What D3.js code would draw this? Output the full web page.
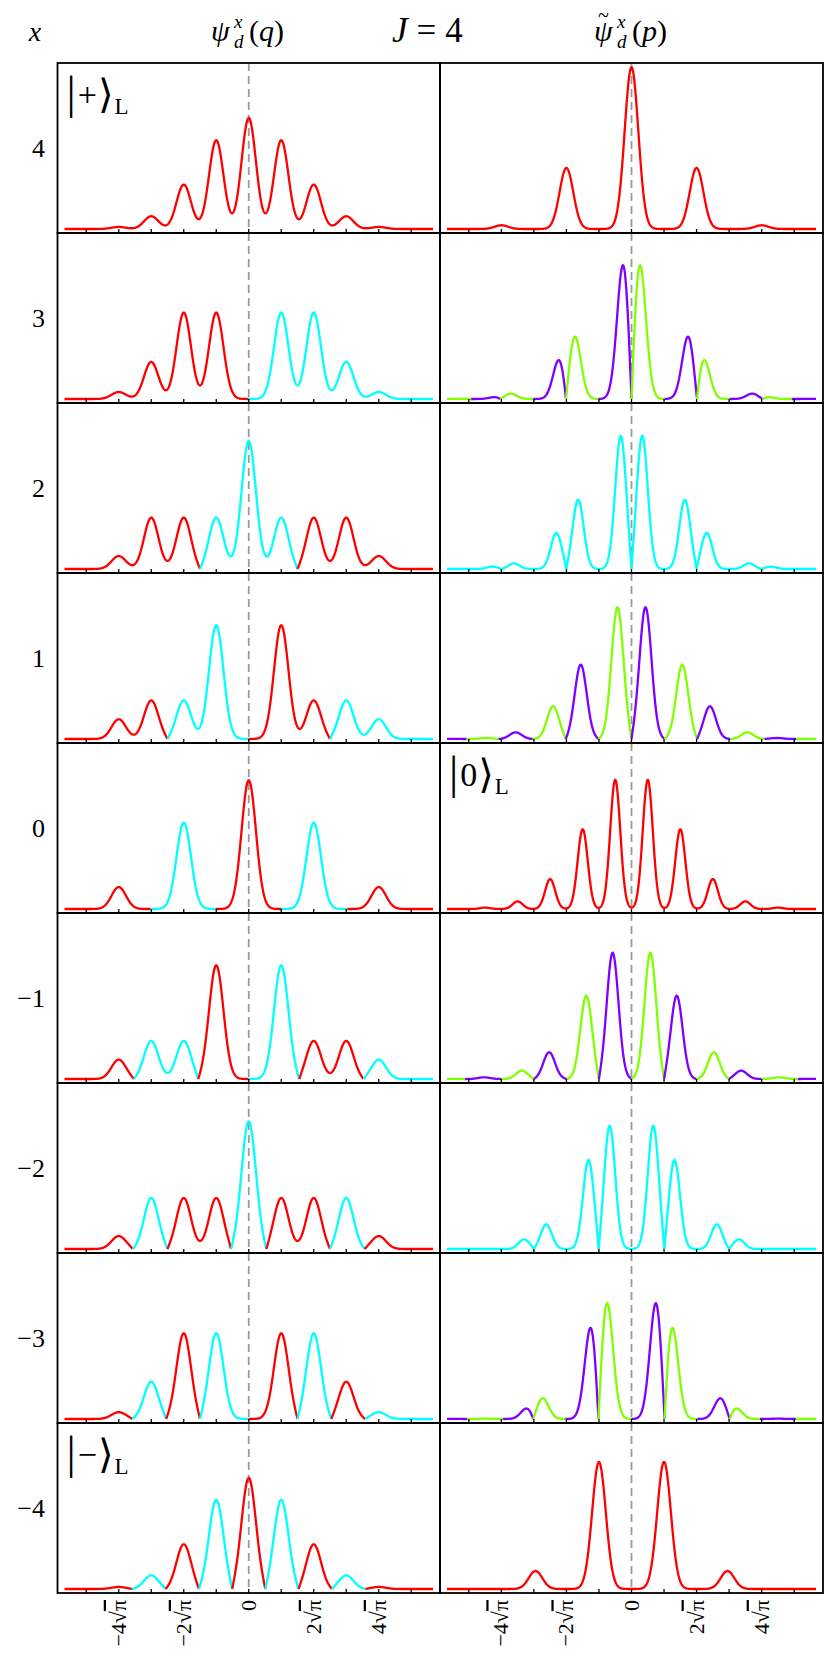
<!DOCTYPE html>
<html>
<head>
<meta charset="utf-8">
<script src="https://cdn.jsdelivr.net/npm/d3@7/dist/d3.min.js"></script>
<style>
    body { margin: 0; background: #fff; }
    svg text { font-family: "Liberation Serif", "Times New Roman", "DejaVu Serif", serif; fill: #000; }
</style>
</head>
<body>
<div id="chart"></div>
<script>
// ---- data (positions in units of sqrt(pi), heights as fraction of panel) ----
const rowLabels = [4, 3, 2, 1, 0, -1, -2, -3, -4];
const tickValues = [-5, -4, -3, -2, -1, 0, 1, 2, 3, 4, 5];
const tickLabelValues = [-4, -2, 0, 2, 4];

// left column: peaks at q = n*sqrt(pi); sign + is red, - is cyan
const qCenters = [-4, -3, -2, -1, 0, 1, 2, 3, 4];
const qAmp4  = [0.012, 0.075, 0.261, 0.522, 0.653, 0.522, 0.261, 0.075, 0.012];
const qAmp3  = [0.041, 0.218, 0.508, 0.508, 0, -0.508, -0.508, -0.218, -0.041];
const qAmp2  = [0.076, 0.302, 0.302, -0.302, -0.753, -0.302, 0.302, 0.302, 0.076];
const qAmp1  = [0.116, 0.227, -0.227, -0.669, 0, 0.669, 0.227, -0.227, -0.116];
const qAmp0  = [0.129, 0, -0.508, 0, 0.757, 0, -0.508, 0, 0.129];
const qAmpM1 = [0.114, -0.224, -0.224, 0.669, 0, -0.669, 0.224, 0.224, -0.114];
const qAmpM2 = [0.076, -0.300, 0.300, 0.300, -0.751, 0.300, 0.300, -0.300, 0.076];
const qAmpM3 = [0.040, -0.219, 0.504, -0.504, 0, 0.504, -0.504, 0.219, -0.040];
const qAmpM4 = [0.012, -0.080, 0.263, -0.525, 0.653, -0.525, 0.263, -0.080, 0.012];
const qWidth = 0.222;

// right column: peak centres and signed heights per row
const pPos4  = [-4, -2, 0, 2, 4];
const pAmp4  = [0.022, 0.359, 0.951, 0.359, 0.022];
const pPos3  = [-5.5, -4.18, -3.72, -2.21, -1.75, -0.25, 0.25, 1.75, 2.21, 3.72, 4.18, 5.5];
const pAmp3  = [0.0005, -0.012, 0.032, -0.245, 0.378, -0.81, 0.81, -0.378, 0.245, -0.032, 0.012, -0.0005];
const pPos2  = [-4.28, -3.61, -2.31, -1.64, -0.33, 0.33, 1.64, 2.31, 3.61, 4.28];
const pAmp2  = [0.014, -0.033, 0.212, -0.408, 0.784, -0.784, 0.408, -0.212, 0.033, -0.014];
const pPos1  = [-5.5, -4.47, -3.56, -2.41, -1.56, -0.43, 0.43, 1.56, 2.41, 3.56, 4.47, 5.5];
const pAmp1  = [-0.0005, 0.006, -0.039, 0.192, -0.437, 0.775, -0.775, 0.437, -0.192, 0.039, -0.006, 0.0005];
const pPos0  = [-4.5, -3.5, -2.5, -1.5, -0.5, 0.5, 1.5, 2.5, 3.5, 4.5];
const pAmp0  = [0.008, 0.045, 0.176, 0.469, 0.76, 0.76, 0.469, 0.176, 0.045, 0.008];
const pPosM1 = [-5.5, -4.53, -3.37, -2.53, -1.39, -0.58, 0.58, 1.39, 2.53, 3.37, 4.53, 5.5];
const pAmpM1 = [0.0005, -0.01, 0.049, -0.157, 0.49, -0.743, 0.743, -0.49, 0.157, -0.049, 0.01, -0.0005];
const pPosM2 = [-3.3, -2.62, -1.32, -0.67, 0.67, 1.32, 2.62, 3.3];
const pAmpM2 = [0.057, -0.145, 0.524, -0.725, 0.725, -0.524, 0.145, -0.057];
const pPosM3 = [-5.5, -4.5, -3.2, -2.74, -1.24, -0.76, 0.76, 1.24, 2.74, 3.2, 4.5, 5.5];
const pAmpM3 = [-0.0005, 0.002, -0.067, 0.125, -0.561, 0.702, -0.702, 0.561, -0.125, 0.067, -0.002, 0.0005];
const pPosM4 = [-2.95, -1, 1, 2.95];
const pAmpM4 = [0.106, 0.747, 0.747, 0.106];
const pWidths = [0.21, 0.19, 0.17, 0.185, 0.155, 0.18, 0.17, 0.19, 0.21];

// phase colours (Hue of arg): 0 red, pi cyan, +pi/2 green, -pi/2 purple
const RED = "#ff0000", CYAN = "#00ffff", GREEN = "#80ff00", PURPLE = "#8000ff";
const realPhase = [RED, CYAN];
const imagPhase = [GREEN, PURPLE];

const leftPanels = [qAmp4, qAmp3, qAmp2, qAmp1, qAmp0, qAmpM1, qAmpM2, qAmpM3, qAmpM4]
    .map(a => ({ pos: qCenters, amp: a, width: qWidth, colors: realPhase }));

const rightPanels = [
    { pos: pPos4, amp: pAmp4, colors: [RED, RED] },
    { pos: pPos3, amp: pAmp3, colors: imagPhase },
    { pos: pPos2, amp: pAmp2, colors: [CYAN, CYAN] },
    { pos: pPos1, amp: pAmp1, colors: imagPhase },
    { pos: pPos0, amp: pAmp0, colors: [RED, RED] },
    { pos: pPosM1, amp: pAmpM1, colors: imagPhase },
    { pos: pPosM2, amp: pAmpM2, colors: [CYAN, CYAN] },
    { pos: pPosM3, amp: pAmpM3, colors: imagPhase },
    { pos: pPosM4, amp: pAmpM4, colors: [RED, RED] }
].map((p, i) => Object.assign(p, { width: pWidths[i] }));

const kets = [
    { col: 0, row: 0, sym: "+" },
    { col: 1, row: 4, sym: "0" },
    { col: 0, row: 8, sym: "−" }
];

// ---- layout ----
const W = 834, H = 1667;
const colEdges = [57.5, 440, 823];
const panelTop = 63, rowH = 170;
const domainX = [-5.885, 5.885];
const curveRange = [-5.67, 5.67];

const svg = d3.select("#chart").append("svg")
    .attr("width", W)
    .attr("height", H)
    .attr("viewBox", `0 0 ${W} ${H}`);

function waveValue(panel, t) {
    let v = 0;
    for (let i = 0; i < panel.pos.length; i++) {
        const d = t - panel.pos[i];
        v += panel.amp[i] * Math.exp(-d * d / (2 * panel.width * panel.width));
    }
    return v;
}

// split |psi| into runs of constant phase so each run gets its colour
function phaseRuns(panel) {
    const ts = d3.range(curveRange[0], curveRange[1] + 1e-9, 0.004);
    const runs = [];
    let prevT = null, prevV = null, cur = null;
    ts.forEach(t => {
        const v = waveValue(panel, t);
        const s = v >= 0 ? 0 : 1;
        if (cur === null) {
            cur = { sign: s, pts: [[t, v]] };
        } else if (s !== cur.sign) {
            const t0 = prevT + (t - prevT) * prevV / (prevV - v);
            cur.pts.push([t0, 0]);
            runs.push(cur);
            cur = { sign: s, pts: [[t0, 0], [t, v]] };
        } else {
            cur.pts.push([t, v]);
        }
        prevT = t; prevV = v;
    });
    runs.push(cur);
    return runs;
}

function drawPanel(col, row, panel) {
    const x0 = colEdges[col], x1 = colEdges[col + 1];
    const y0 = panelTop + row * rowH, y1 = y0 + rowH;
    const x = d3.scaleLinear().domain(domainX).range([x0, x1]);
    const y = d3.scaleLinear().domain([0, 1]).range([y1 - 4, y0 - 4]);
    const g = svg.append("g");

    // dashed zero line
    g.append("line")
        .attr("x1", x(0)).attr("x2", x(0))
        .attr("y1", y0).attr("y2", y1)
        .attr("stroke", "#9a9a9a")
        .attr("stroke-width", 1.8)
        .attr("stroke-dasharray", "8,5");

    const line = d3.line()
        .x(d => x(d[0]))
        .y(d => y(Math.abs(d[1])));

    phaseRuns(panel).forEach(run => {
        g.append("path")
            .attr("d", line(run.pts))
            .attr("fill", "none")
            .attr("stroke", panel.colors[run.sign])
            .attr("stroke-width", 2.3)
            .attr("stroke-linejoin", "round");
    });

    // ticks on the bottom edge
    g.selectAll(".tick")
        .data(tickValues)
        .join("line")
        .attr("x1", d => x(d)).attr("x2", d => x(d))
        .attr("y1", y1).attr("y2", y1 - 4)
        .attr("stroke", "#000")
        .attr("stroke-width", 1.3);

    g.append("rect")
        .attr("x", x0).attr("y", y0)
        .attr("width", x1 - x0).attr("height", rowH)
        .attr("fill", "none")
        .attr("stroke", "#000")
        .attr("stroke-width", 1.8);

    return x;
}

const bottomScales = [];
leftPanels.forEach((p, i) => { const x = drawPanel(0, i, p); if (i === 8) bottomScales[0] = x; });
rightPanels.forEach((p, i) => { const x = drawPanel(1, i, p); if (i === 8) bottomScales[1] = x; });

// row labels
svg.selectAll(".rowLabel")
    .data(rowLabels)
    .join("text")
    .attr("x", 45)
    .attr("y", (d, i) => panelTop + i * rowH + rowH / 2 + 9)
    .attr("text-anchor", "end")
    .style("font-size", "26px")
    .text(d => d < 0 ? "−" + Math.abs(d) : String(d));

// bottom tick labels, rotated
bottomScales.forEach(x => {
    tickLabelValues.forEach(v => {
        const t = svg.append("text")
            .attr("transform", `translate(${x(v) + 7},${panelTop + 9 * rowH + 7}) rotate(-90)`)
            .attr("text-anchor", "end")
            .style("font-size", "22px");
        if (v === 0) {
            t.text("0");
        } else {
            t.append("tspan").text((v < 0 ? "−" : "") + Math.abs(v) + "√");
            t.append("tspan").attr("text-decoration", "overline").text("π");
        }
    });
});

// kets
kets.forEach(k => {
    const x0 = colEdges[k.col] + 9;
    const yb = panelTop + k.row * rowH + 45;
    const t = svg.append("text").attr("x", x0).attr("y", yb);
    t.append("tspan").style("font-size", "46px").text("|");
    t.append("tspan").style("font-size", "34px").attr("dx", 2).attr("dy", -2).text(k.sym);
    t.append("tspan").style("font-family", "'DejaVu Sans'").style("font-size", "40px").attr("dx", 1).attr("dy", 2).text("⟩");
    t.append("tspan").style("font-size", "23px").attr("dx", 1).attr("dy", 6).text("L");
});

// header
svg.append("text").attr("x", 35).attr("y", 41).attr("text-anchor", "middle")
    .style("font-size", "28px").style("font-style", "italic").text("x");

// one text element per header: psi (optional tilde), stacked x / d, then (q) or (p)
function psiHeader(xStart, arg, tilde) {
    const p = svg.append("text").attr("x", xStart).attr("y", 41)
        .style("font-size", "30px").style("font-style", "italic");
    p.append("tspan").text("ψ");
    if (tilde) {
        p.append("tspan").attr("x", xStart + 4).attr("y", 22)
            .style("font-size", "20px").style("font-style", "normal").text("~");
    }
    p.append("tspan").attr("x", xStart + 23).attr("y", 28)
        .style("font-size", "19px").text("x");
    p.append("tspan").attr("x", xStart + 23).attr("y", 48)
        .style("font-size", "19px").text("d");
    p.append("tspan").attr("x", xStart + 38).attr("y", 41).style("font-style", "normal").text("(");
    p.append("tspan").text(arg);
    p.append("tspan").style("font-style", "normal").text(")");
}
psiHeader(211, "q", false);
psiHeader(594, "p", true);

const jt = svg.append("text").attr("x", 392).attr("y", 42).style("font-size", "35px");
jt.append("tspan").style("font-style", "italic").text("J");
jt.append("tspan").attr("dx", 9).text("=");
jt.append("tspan").attr("dx", 9).text("4");
</script>
</body>
</html>
